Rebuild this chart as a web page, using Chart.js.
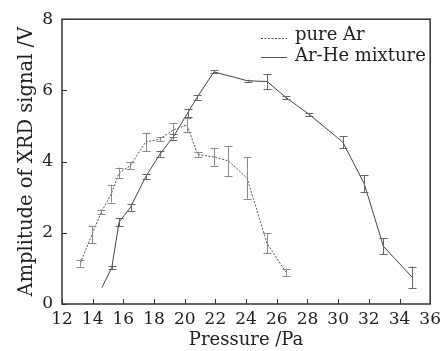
<!DOCTYPE html>
<html>
<head>
<meta charset="utf-8">
<script src="https://cdn.jsdelivr.net/npm/chart.js@4.4.1/dist/chart.umd.min.js"></script>
<style>
  html, body { margin: 0; padding: 0; background: #fff; }
  #wrap { width: 446px; height: 351px; }
</style>
</head>
<body>
<div id="wrap"><canvas id="c" width="446" height="351"></canvas></div>
<script>
// datos
const arPressure = [13.2, 13.95, 14.57, 15.22, 15.72, 16.45, 17.45, 18.36, 19.26, 20.15, 20.84, 21.94, 22.85, 24.06, 25.36, 26.6];
const arSignal   = [1.15, 1.95, 2.59, 3.1, 3.68, 3.88, 4.55, 4.63, 4.89, 5.03, 4.2, 4.13, 4.02, 3.54, 1.71, 0.89];
const arError    = [0.1, 0.25, 0.06, 0.25, 0.15, 0.1, 0.25, 0.05, 0.2, 0.2, 0.06, 0.25, 0.42, 0.58, 0.28, 0.1];

const mixPressure = [14.6, 15.25, 15.72, 16.47, 17.45, 18.4, 19.26, 20.2, 20.8, 21.9, 24.1, 25.37, 26.6, 28.1, 30.3, 31.7, 32.95, 34.83];
const mixSignal   = [0.46, 1.03, 2.3, 2.72, 3.57, 4.22, 4.7, 5.37, 5.8, 6.52, 6.27, 6.25, 5.8, 5.33, 4.55, 3.38, 1.62, 0.75];
const mixError    = [null, 0.05, 0.12, 0.1, 0.07, 0.08, 0.08, 0.12, 0.06, 0.04, 0.03, 0.21, 0.05, 0.04, 0.17, 0.24, 0.22, 0.3];

const xTicks = [12, 14, 16, 18, 20, 22, 24, 26, 28, 30, 32, 34, 36];
const yTicks = [0, 2, 4, 6, 8];
const seriesNames = ['pure Ar', 'Ar-He mixture'];

const FONT = '"DejaVu Serif", "Liberation Serif", serif';

function toPoints(xs, ys) {
  return xs.map((x, i) => ({ x: x, y: ys[i] }));
}

// barras de error, marco, marcas internas y leyenda
const extras = {
  id: 'extras',
  afterDatasetsDraw(chart) {
    const ctx = chart.ctx;
    const xs = chart.scales.x, ys = chart.scales.y;
    const area = chart.chartArea;

    const drawErrors = (px, py, err, color) => {
      ctx.save();
      ctx.strokeStyle = color;
      ctx.lineWidth = 1;
      px.forEach((p, i) => {
        if (err[i] == null) return;
        const x = Math.round(xs.getPixelForValue(p)) + 0.5;
        const y1 = ys.getPixelForValue(py[i] - err[i]);
        const y2 = ys.getPixelForValue(py[i] + err[i]);
        ctx.beginPath();
        ctx.moveTo(x, y1); ctx.lineTo(x, y2);
        ctx.moveTo(x - 4, Math.round(y1) + 0.5); ctx.lineTo(x + 4, Math.round(y1) + 0.5);
        ctx.moveTo(x - 4, Math.round(y2) + 0.5); ctx.lineTo(x + 4, Math.round(y2) + 0.5);
        ctx.stroke();
      });
      ctx.restore();
    };
    drawErrors(arPressure, arSignal, arError, '#8a8a8a');
    drawErrors(mixPressure, mixSignal, mixError, '#666');

    ctx.save();
    ctx.strokeStyle = '#333';
    ctx.lineWidth = 1.5;
    ctx.strokeRect(area.left, area.top, area.right - area.left, area.bottom - area.top);

    ctx.lineWidth = 1;
    ctx.beginPath();
    xTicks.forEach(v => {
      const x = Math.round(xs.getPixelForValue(v)) + 0.5;
      ctx.moveTo(x, area.bottom); ctx.lineTo(x, area.bottom - 5);
    });
    yTicks.forEach(v => {
      const y = Math.round(ys.getPixelForValue(v)) + 0.5;
      ctx.moveTo(area.left, y); ctx.lineTo(area.left + 5, y);
    });
    ctx.stroke();

    // leyenda
    ctx.fillStyle = '#222';
    ctx.font = '18px ' + FONT;
    ctx.textBaseline = 'middle';
    ctx.strokeStyle = '#555';
    ctx.setLineDash([2, 1.5]);
    ctx.beginPath(); ctx.moveTo(261, 38.5); ctx.lineTo(287, 38.5); ctx.stroke();
    ctx.setLineDash([]);
    ctx.beginPath(); ctx.moveTo(261, 57.5); ctx.lineTo(287, 57.5); ctx.stroke();
    ctx.fillText(seriesNames[0], 295, 35);
    ctx.fillText(seriesNames[1], 295, 56);
    ctx.restore();
  }
};

new Chart(document.getElementById('c'), {
  type: 'scatter',
  data: {
    datasets: [
      {
        label: seriesNames[0],
        data: toPoints(arPressure, arSignal),
        showLine: true,
        borderColor: '#555',
        borderWidth: 1,
        borderDash: [2, 1.5],
        pointRadius: 0,
        tension: 0
      },
      {
        label: seriesNames[1],
        data: toPoints(mixPressure, mixSignal),
        showLine: true,
        borderColor: '#444',
        borderWidth: 1,
        pointRadius: 0,
        tension: 0
      }
    ]
  },
  options: {
    responsive: false,
    animation: false,
    layout: { padding: { top: 19, right: 14, left: 0, bottom: 0 } },
    plugins: { legend: { display: false }, tooltip: { enabled: false } },
    scales: {
      x: {
        type: 'linear',
        min: 12, max: 36,
        afterBuildTicks: s => { s.ticks = xTicks.map(v => ({ value: v })); },
        afterFit: s => { s.height = 47; },
        grid: { display: false, drawTicks: false },
        border: { display: false },
        ticks: { color: '#222', font: { family: FONT, size: 17 }, padding: 5, maxRotation: 0, autoSkip: false },
        title: { display: true, text: 'Pressure /Pa', color: '#222', font: { family: FONT, size: 18 }, padding: { top: 0, bottom: 0 } }
      },
      y: {
        type: 'linear',
        min: 0, max: 8,
        afterBuildTicks: s => { s.ticks = yTicks.map(v => ({ value: v })); },
        afterFit: s => { s.width = 62; },
        grid: { display: false, drawTicks: false },
        border: { display: false },
        ticks: { color: '#222', font: { family: FONT, size: 17 }, padding: 9 },
        title: { display: true, text: 'Amplitude of XRD signal /V', color: '#222', font: { family: FONT, size: 19.5 }, padding: { top: 15, bottom: 0 } }
      }
    }
  },
  plugins: [extras]
});
</script>
</body>
</html>
